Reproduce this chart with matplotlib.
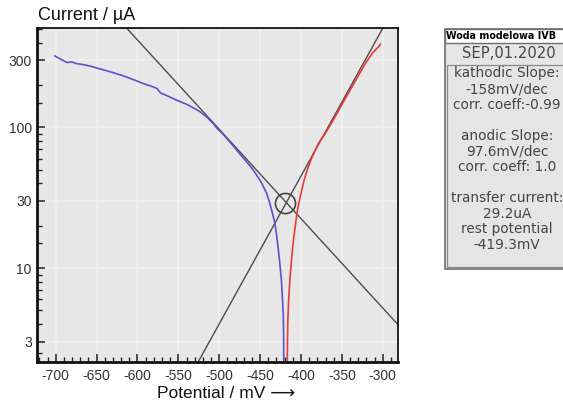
import matplotlib
matplotlib.use("Agg")
import matplotlib.pyplot as plt
from matplotlib.patches import Rectangle
from matplotlib.ticker import FixedLocator, NullFormatter

# cathodic branch (blue), potential in mV and current in uA
blue_E = [-701, -694, -686, -680, -675, -669, -662, -655, -648, -640, -633, -625,
          -617, -609, -601, -592, -584, -576, -572, -564, -552, -540, -532, -524,
          -515, -507, -503, -495, -483, -472, -462, -456, -450, -446, -442, -439,
          -436, -432, -430, -428, -426, -424, -422.5, -421.6, -421.2, -421.0]
blue_i = [322, 305, 289, 292, 284, 281, 276, 270, 262, 255, 248, 240,
          232, 223, 214, 204, 197, 189, 176, 168, 156, 146, 138, 130,
          118, 106, 99, 89, 74, 62, 53, 47.5, 42, 38, 34, 30,
          26, 21, 17.5, 14, 11, 8.3, 5.8, 4.6, 3.3, 2.0]

# anodic branch (red)
red_E = [-416.8, -416.5, -416.1, -415.3, -414.2, -412.8, -411.0, -409.0, -406.7,
         -404.5, -401.8, -399, -396, -392, -388, -383, -378, -370, -360, -350,
         -340, -330, -320, -312, -304, -303]
red_i = [2.0, 3.0, 4.2, 5.6, 7.2, 9.4, 12.5, 16.2, 20.5,
         25.5, 30.5, 36, 42.6, 50.5, 58.5, 68, 78, 91, 114, 145,
         184, 232, 292, 340, 380, 390]

# Tafel lines (end points)
cath_E = [-613, -282]
cath_i = [506, 4.0]
anod_E = [-526, -300]
anod_i = [2.14, 506]

rest_E = -419.3
rest_i = 29.2

x_ticks = [-700, -650, -600, -550, -500, -450, -400, -350, -300]
y_ticks = [3, 10, 30, 100, 300]
y_minor = [2.5, 4, 5, 6, 7, 8, 9, 15, 20, 40, 50, 60, 70, 80, 90, 150, 200, 400, 500]

box_title = "Woda modelowa IVB"
box_date = "SEP,01.2020"
box_lines = ["kathodic Slope:", "-158mV/dec", "corr. coeff:-0.99", "",
             "anodic Slope:", "97.6mV/dec", "corr. coeff: 1.0", "",
             "transfer current:", "29.2uA", "rest potential", "-419.3mV"]

W, H = 563, 405
fig = plt.figure(figsize=(W / 100, H / 100), dpi=100)
fig.patch.set_facecolor("white")

def fx(x):
    return x / W

def fy(y):
    return 1 - y / H

ax = fig.add_axes([fx(37.3), fy(362.3), fx(397.7) - fx(37.3), fy(28.3) - fy(362.3)])
ax.set_facecolor("#e7e7e7")
ax.set_yscale("log")
ax.set_xlim(-722.5, -281.7)
ax.set_ylim(2.14, 506)

ax.grid(True, which="major", color="#efefef", lw=1.3)
ax.set_axisbelow(True)

ax.plot(cath_E, cath_i, color="#554848", lw=1.0)
ax.plot(anod_E, anod_i, color="#554848", lw=1.0)
ax.plot(blue_E, blue_i, color="#5a52d0", lw=1.2)
ax.plot(red_E, red_i, color="#e83a3a", lw=1.2)
ax.plot([rest_E], [rest_i], "o", mfc="none", mec="#444444", ms=14.5, mew=1.2)

ax.xaxis.set_major_locator(FixedLocator(x_ticks))
ax.xaxis.set_minor_locator(FixedLocator(range(-720, -280, 10)))
ax.yaxis.set_major_locator(FixedLocator(y_ticks))
ax.yaxis.set_minor_locator(FixedLocator(y_minor))
ax.yaxis.set_minor_formatter(NullFormatter())
ax.set_xticklabels([str(t) for t in x_ticks])
ax.set_yticklabels([str(t) for t in y_ticks])

ax.tick_params(which="both", direction="in", top=False, right=False,
               colors="#222222", labelcolor="#333333", labelsize=10)
ax.tick_params(which="major", length=6, width=1.1)
ax.tick_params(which="minor", length=3.5, width=1.0)
ax.tick_params(axis="x", pad=5)
ax.tick_params(axis="y", pad=4)
for lab in ax.get_xticklabels() + ax.get_yticklabels():
    lab.set_family("Liberation Sans")

for side in ["left", "bottom"]:
    ax.spines[side].set_linewidth(2.0)
for side in ["top", "right"]:
    ax.spines[side].set_linewidth(1.3)
for s in ax.spines.values():
    s.set_color("#111111")

fig.text(fx(38), fy(15), "Current / \u00b5A", ha="left", va="center",
         fontsize=13, family=["Liberation Sans", "DejaVu Sans"], color="#111111")
fig.text(fx(226), fy(393), "Potential / mV \u27f6", ha="center", va="center",
         fontsize=12.5, family=["Liberation Sans", "DejaVu Sans"], color="#111111")

# info box on the right
bx0, bx1, by0, by1 = 445, 575, 29.3, 269.3
fig.patches.append(Rectangle((fx(bx0), fy(by1)), fx(bx1) - fx(bx0), fy(by0) - fy(by1),
                             transform=fig.transFigure, facecolor="#e5e5e5",
                             edgecolor="#6e6e6e", lw=1.2))
fig.patches.append(Rectangle((fx(bx0), fy(42.7)), fx(bx1) - fx(bx0), fy(by0) - fy(42.7),
                             transform=fig.transFigure, facecolor="white",
                             edgecolor="#6e6e6e", lw=1.0))
fig.patches.append(Rectangle((fx(bx0 + 2), fy(266.5)), fx(bx1) - fx(bx0 + 2), fy(65) - fy(266.5),
                             transform=fig.transFigure, facecolor="none",
                             edgecolor="#8a8a8a", lw=0.9))

fig.text(fx(446.5), fy(36), box_title, ha="left", va="center", fontsize=6.9,
         fontweight="bold", family="DejaVu Sans", color="black")
fig.text(fx(509), fy(53.5), box_date, ha="center", va="center", fontsize=10.6,
         family="DejaVu Sans", color="#454545")
for k, line in enumerate(box_lines):
    fig.text(fx(507), fy(73.5 + 15.6 * k), line, ha="center", va="center",
             fontsize=9.8, family="DejaVu Sans", color="#454545")

fig.savefig("out.png", dpi=100)
